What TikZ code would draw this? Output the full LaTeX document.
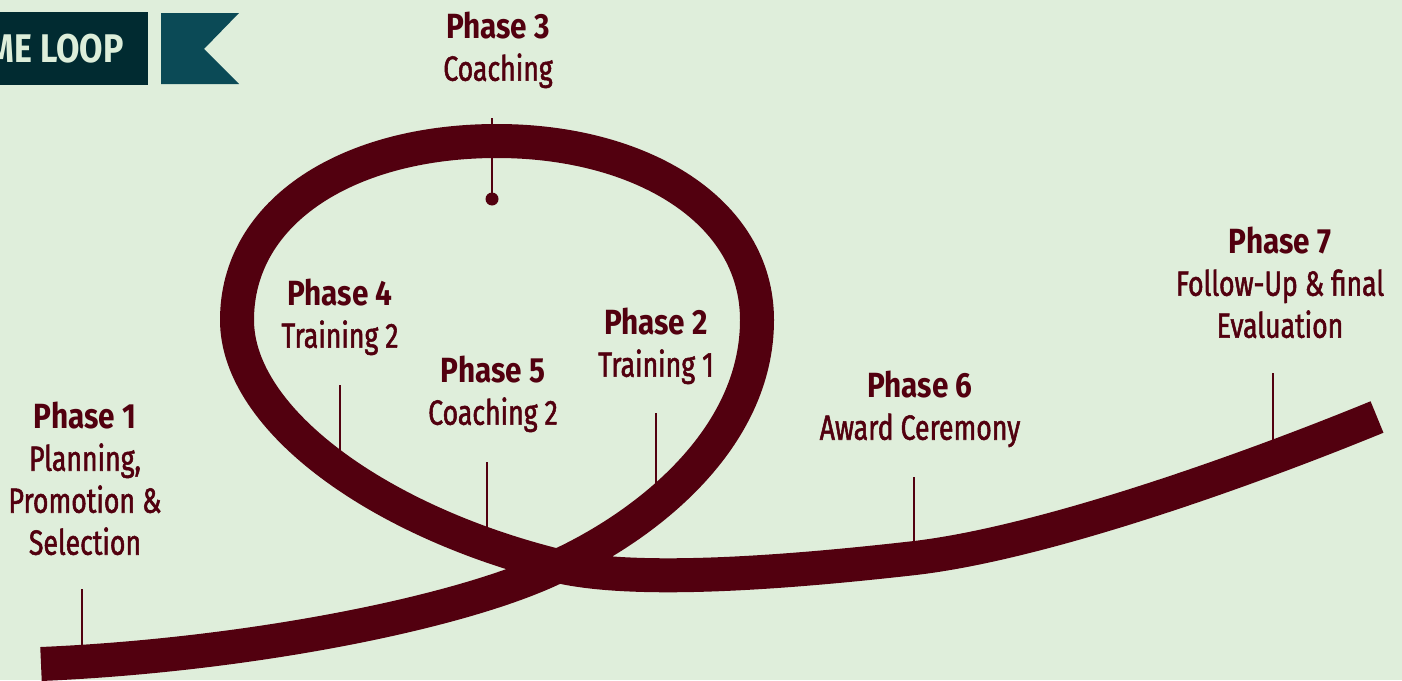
\documentclass[tikz,border=0pt]{standalone}
\usepackage{fontspec}
\setmainfont[FakeStretch=0.8]{Fira Sans}
\newfontfamily\descfont[FakeStretch=0.76,FakeBold=1.5]{Fira Sans}
\newfontfamily\phfont[FakeStretch=0.85]{Fira Sans}
\definecolor{bg}{HTML}{DFEEDB}
\definecolor{maroon}{HTML}{52000F}
\definecolor{bannerdark}{HTML}{012B31}
\definecolor{flagcol}{HTML}{0B4A56}
\definecolor{bannertext}{HTML}{DDEEDA}
\tikzset{
  phaselbl/.style={text=maroon, font=\descfont\fontsize{35}{42}\selectfont, align=center, inner sep=0pt, anchor=north},
  markerline/.style={draw=maroon, line width=2.2pt},
  roadline/.style={draw=maroon, line width=34pt},
}
\newcommand{\ph}[1]{{\phfont\bfseries #1}}
\begin{document}
\begin{tikzpicture}[x=1pt,y=-1pt]
\fill[bg] (0,0) rectangle (1402,680);
\useasboundingbox (0,0) rectangle (1402,680);
\clip (0,0) rectangle (1402,680);

% banner
\fill[bannerdark] (0,12) rectangle (148,85);
\node[anchor=east, text=bannertext, inner sep=0pt, font=\phfont\bfseries\fontsize{40}{40}\selectfont] (title) at (124,49) {ME LOOP};
\fill[flagcol] (161,13) -- (239,13) -- (204,49) -- (239,84) -- (161,84) -- cycle;

% marker coordinates
\coordinate (m1a) at (82,589);   \coordinate (m1b) at (82,660);
\coordinate (m2a) at (656,413);  \coordinate (m2b) at (656,505);
\coordinate (m3a) at (492,118);  \coordinate (m3b) at (492,199);
\coordinate (m4a) at (340,385);  \coordinate (m4b) at (340,466);
\coordinate (m5a) at (487,462);  \coordinate (m5b) at (487,545);
\coordinate (m6a) at (914,477);  \coordinate (m6b) at (914,558);
\coordinate (m7a) at (1273,373); \coordinate (m7b) at (1273,458);

\foreach \m in {1,...,7} {\draw[markerline] (m\m a) -- (m\m b);}
\fill[maroon] (m3b) circle (6.5);
\fill[maroon] (m4b) circle (4.5);

% road
\coordinate (start) at (41,664);
\coordinate (cross) at (558,566);
\coordinate (loopR) at (757,320);
\coordinate (loopT) at (497,141);
\coordinate (loopL) at (237,320);
\coordinate (dip) at (915,558);
\coordinate (finish) at (1377,417);
\draw[roadline] (start) .. controls (250,655) and (465,612) .. (cross)
  .. controls (645,526) and (757,440) .. (loopR)
  .. controls (757,210) and (640,141) .. (loopT)
  .. controls (350,141) and (237,210) .. (loopL)
  .. controls (237,420) and (380,522) .. (cross)
  .. controls (640,585) and (800,571) .. (dip)
  .. controls (1050,542) and (1260,465) .. (finish);

% labels
\node[phaselbl] (p1) at (85,402) {\ph{Phase 1}\\Planning,\\Promotion \&\\Selection};
\node[phaselbl] (p2) at (656,308) {\ph{Phase 2}\\Training 1};
\node[phaselbl] (p3) at (498,12) {\ph{Phase 3}\\Coaching};
\node[phaselbl] (p4) at (340,279) {\ph{Phase 4}\\Training 2};
\node[phaselbl] (p5) at (493,356) {\ph{Phase 5}\\Coaching 2};
\node[phaselbl] (p6) at (920,371) {\ph{Phase 6}\\Award Ceremony};
\node[phaselbl] (p7) at (1280,227) {\ph{Phase 7}\\Follow-Up \& final\\Evaluation};
\end{tikzpicture}
\end{document}
